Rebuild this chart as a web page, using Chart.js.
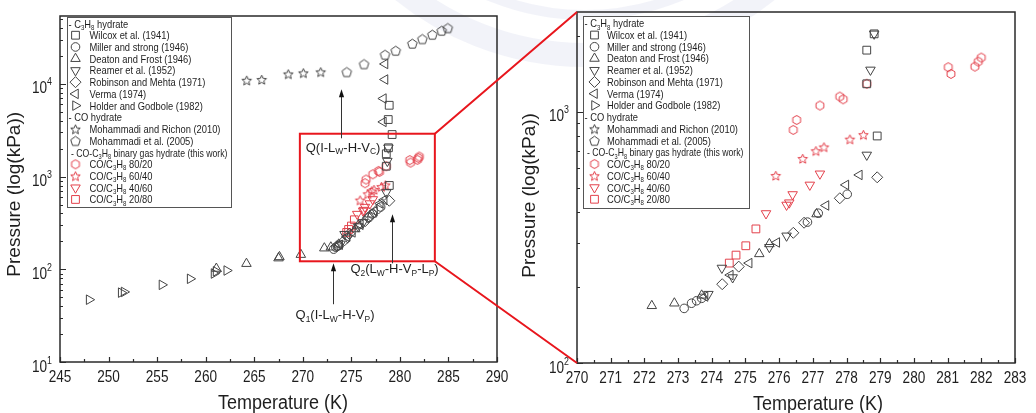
<!DOCTYPE html>
<html>
<head>
<meta charset="utf-8">
<script src="https://cdn.jsdelivr.net/npm/chart.js@4.4.1/dist/chart.umd.min.js"></script>
<style>
  html, body { margin: 0; padding: 0; background: #fff; }
  #wrap { position: relative; width: 1036px; height: 413px; overflow: hidden; }
  canvas { position: absolute; top: 0; }
  #bg, #fg { left: 0; }
  #fg { pointer-events: none; }
  #c1 { left: 0; }
  #c2 { left: 520px; }
</style>
</head>
<body>
<div id="wrap">
  <canvas id="bg" width="1036" height="413"></canvas>
  <canvas id="c1" width="520" height="413"></canvas>
  <canvas id="c2" width="516" height="413"></canvas>
  <canvas id="fg" width="1036" height="413"></canvas>
</div>
<script>
// ---- data: temperature (K) / pressure (kPa) ----
// C3H8 hydrate, literature
var wilcoxT   = [278.6, 278.6, 278.82, 278.91, 279.2, 278.8, 278.9];
var wilcoxP   = [1294, 1762, 2046, 802, 2842, 4125, 5880];
var millerT   = [273.18, 273.4, 273.55, 273.7, 276.84, 277.16, 278.02];
var millerP   = [165, 173, 177, 181, 364, 395, 470];
var deatonT   = [261.1, 264.2, 267.5, 267.6, 269.8, 272.22, 272.89, 273.7, 275.41, 275.71, 277.11];
var deatonP   = [102, 115, 132, 136, 144, 169, 173, 186, 272, 298, 392];
var reamerT   = [273.9, 274.3, 274.62, 275.71, 276.22, 278.6, 278.71, 278.82];
var reamerP   = [188, 239, 219, 289, 321, 674, 1470, 2046];
var robinsonT = [274.31, 274.8, 276.42, 276.74, 277.8, 278.91];
var robinsonP = [206, 242, 330, 362, 453, 549];
var vermaT    = [273.8, 274.55, 275.11, 275.93, 277.39, 277.98, 278.38, 278.3, 278.3, 278.47, 278.47];
var vermaP    = [184, 224, 250, 302, 424, 512, 561, 3890, 6950, 11150, 16400];
var holderT   = [248.0, 251.3, 251.6, 255.5, 258.4, 260.86, 261.07, 262.17];
var holderP   = [47, 56, 57, 68, 79, 90, 95, 97];
// CO hydrate
var richonT   = [264.23, 265.77, 268.51, 270.06, 271.85];
var richonP   = [10940, 11150, 12800, 13130, 13460];
var moh05T    = [274.53, 276.31, 278.47, 279.57, 281.28, 282.31, 283.34, 284.31, 284.93];
var moh05P    = [13460, 16400, 20740, 22900, 27280, 30550, 34100, 37650, 40180];
// CO-C3H8 binary hydrate (this work)
var mix8020T  = [276.42, 276.52, 277.21, 277.8, 277.9, 278.6, 281.02, 281.1, 281.81, 281.91, 282.0];
var mix8020P  = [848, 929, 1060, 1151, 1123, 1294, 1507, 1417, 1515, 1586, 1646];
var mix6040T  = [275.9, 276.7, 277.09, 277.33, 278.1, 278.5];
var mix6040P  = [558, 652, 700, 725, 779, 812];
var mix4060T  = [275.61, 276.22, 276.3, 276.4, 276.91, 277.21];
var mix4060P  = [394, 426, 435, 469, 512, 567];
var mix2080T  = [274.52, 274.72, 275.01, 275.31];
var mix2080P  = [250, 269, 293, 342];

var seriesLabels = ["Wilcox et al. (1941)", "Miller and strong (1946)", "Deaton and Frost (1946)",
  "Reamer et al. (1952)", "Robinson and Mehta (1971)", "Verma (1974)", "Holder and Godbole (1982)",
  "Mohammadi and Richon (2010)", "Mohammadi et al. (2005)",
  "CO/C3H8 80/20", "CO/C3H8 60/40", "CO/C3H8 40/60", "CO/C3H8 20/80"];
var seriesT = [wilcoxT, millerT, deatonT, reamerT, robinsonT, vermaT, holderT, richonT, moh05T, mix8020T, mix6040T, mix4060T, mix2080T];
var seriesP = [wilcoxP, millerP, deatonP, reamerP, robinsonP, vermaP, holderP, richonP, moh05P, mix8020P, mix6040P, mix4060P, mix2080P];

var SANS = '"Liberation Sans", Arial, sans-serif';
var SQ = 0.85;          // the figure's text is a bit condensed
var GREY = '#444';
var RED = '#e3404b';
var INK = '#1e1e1e';
var BOXRED = '#e8161d';

// outline marker drawn to a small canvas (pentagon, hexagon, 5-point star)
function shapeCanvas(kind, color, size) {
  var c = document.createElement('canvas');
  c.width = c.height = size + 2;
  var g = c.getContext('2d');
  var cx = (size + 2) / 2, cy = cx, r = size / 2 - 0.5;
  var pts = [];
  if (kind == 'pentagon') {
    for (var i = 0; i < 5; i++) pts.push([-Math.PI / 2 + i * 2 * Math.PI / 5, r]);
  } else if (kind == 'hexagon') {
    for (var i = 0; i < 6; i++) pts.push([-Math.PI / 2 + i * Math.PI / 3, r]);
  } else {
    for (var i = 0; i < 10; i++) pts.push([-Math.PI / 2 + i * Math.PI / 5, i % 2 ? r * 0.45 : r]);
  }
  g.strokeStyle = color;
  g.lineWidth = 1;
  g.beginPath();
  pts.forEach(function (p, i) {
    var x = cx + Math.cos(p[0]) * p[1], y = cy + Math.sin(p[0]) * p[1] + (kind == 'hexagon' ? 0 : 0.6);
    if (i == 0) g.moveTo(x, y); else g.lineTo(x, y);
  });
  g.closePath();
  g.stroke();
  return c;
}

var markers = [
  { ps: 'rect', r: 5.5, c: GREY },
  { ps: 'circle', r: 4.3, c: GREY },
  { ps: 'triangle', r: 5.5, c: GREY },
  { ps: 'triangle', r: 5.5, rot: 180, c: GREY },
  { ps: 'rectRot', r: 5.5, c: GREY },
  { ps: 'triangle', r: 5.5, rot: -90, c: GREY },
  { ps: 'triangle', r: 5.5, rot: 90, c: GREY },
  { ps: shapeCanvas('star', GREY, 11), r: 5, c: GREY },
  { ps: shapeCanvas('pentagon', GREY, 11), r: 5, c: GREY },
  { ps: shapeCanvas('hexagon', RED, 10), r: 5, c: RED },
  { ps: shapeCanvas('star', RED, 11), r: 5, c: RED },
  { ps: 'triangle', r: 5.5, rot: 180, c: RED },
  { ps: 'rect', r: 5.5, c: RED }
];

function buildDatasets() {
  return seriesLabels.map(function (lab, i) {
    var m = markers[i];
    return {
      label: lab,
      data: seriesT[i].map(function (t, j) { return { x: t, y: seriesP[i][j] }; }),
      pointStyle: m.ps,
      pointRadius: m.r,
      pointRotation: m.rot || 0,
      pointBorderColor: m.c,
      pointBackgroundColor: 'rgba(0,0,0,0)',
      pointBorderWidth: 1,
      borderColor: m.c
    };
  });
}

// text with sub/superscript pieces: [text, 0 normal | 1 sub | 2 sup]
// sx squeezes the text horizontally
function richText(ctx, parts, x, y, size, align, sx) {
  sx = sx || 1;
  var small = size * 0.65;
  var widths = parts.map(function (p) {
    ctx.font = (p[1] ? small : size) + 'px ' + SANS;
    return ctx.measureText(p[0]).width * sx;
  });
  var total = widths.reduce(function (a, b) { return a + b; }, 0);
  var cx = align == 'center' ? x - total / 2 : align == 'right' ? x - total : x;
  ctx.textAlign = 'left';
  ctx.textBaseline = 'alphabetic';
  parts.forEach(function (p, i) {
    ctx.font = (p[1] ? small : size) + 'px ' + SANS;
    var dy = p[1] == 1 ? size * 0.2 : p[1] == 2 ? -size * 0.5 : 0;
    ctx.save();
    ctx.translate(cx, y + dy);
    ctx.scale(sx, 1);
    ctx.fillText(p[0], 0, 0);
    ctx.restore();
    cx += widths[i];
  });
}

var C3H8 = [['C', 0], ['3', 1], ['H', 0], ['8', 1]];
var legendRows = [
  { head: [['- ', 0]].concat(C3H8, [[' hydrate', 0]]), dx: 1.5 },
  { set: 0 }, { set: 1 }, { set: 2 }, { set: 3 }, { set: 4 }, { set: 5 }, { set: 6 },
  { head: [['- CO hydrate', 0]], dx: 1.5 },
  { set: 7 }, { set: 8 },
  { head: [['- CO-', 0]].concat(C3H8, [[' binary gas hydrate (this work)', 0]]), dx: 4, sx: 0.79 },
  { set: 9, parts: [['CO/', 0]].concat(C3H8, [[' 80/20', 0]]) },
  { set: 10, parts: [['CO/', 0]].concat(C3H8, [[' 60/40', 0]]) },
  { set: 11, parts: [['CO/', 0]].concat(C3H8, [[' 40/60', 0]]) },
  { set: 12, parts: [['CO/', 0]].concat(C3H8, [[' 20/80', 0]]) }
];

var decor = {
  id: 'decor',
  afterDraw: function (chart, args, o) {
    var ctx = chart.ctx, a = chart.chartArea, xs = chart.scales.x, ys = chart.scales.y;
    ctx.save();

    // zoom rectangle (left panel only)
    if (o.zoomBox) {
      var b = o.zoomBox;
      ctx.strokeStyle = BOXRED;
      ctx.lineWidth = 2;
      var x0 = xs.getPixelForValue(b.T0), x1 = xs.getPixelForValue(b.T1);
      var y0 = ys.getPixelForValue(b.P1), y1 = ys.getPixelForValue(b.P0);
      ctx.strokeRect(x0, y0, x1 - x0, y1 - y0);
    }

    // frame
    ctx.strokeStyle = '#2a2a2a';
    ctx.lineWidth = 1.5;
    ctx.strokeRect(a.left, a.top, a.right - a.left, a.bottom - a.top);

    // inward ticks
    ctx.lineWidth = 1.2;
    ctx.beginPath();
    for (var v = xs.min; v <= xs.max + 1e-9; v += o.xMinor) {
      var px = Math.round(xs.getPixelForValue(v)) + 0.5;
      var major = Math.abs(v / o.xMajor - Math.round(v / o.xMajor)) < 1e-6;
      ctx.moveTo(px, a.bottom);
      ctx.lineTo(px, a.bottom - (major ? 5 : 3));
    }
    var e0 = Math.floor(Math.log10(ys.min)), e1 = Math.ceil(Math.log10(ys.max));
    for (var e = e0; e <= e1; e++) {
      for (var m = 1; m <= 9; m++) {
        var val = m * Math.pow(10, e);
        if (val < ys.min * 0.999 || val > ys.max * 1.001) continue;
        var py = Math.round(ys.getPixelForValue(val)) + 0.5;
        ctx.moveTo(a.left, py);
        ctx.lineTo(a.left + (m == 1 ? 6 : 3), py);
      }
    }
    ctx.stroke();

    // tick labels
    ctx.fillStyle = INK;
    for (var v = xs.min; v <= xs.max + 1e-9; v += o.xMajor) {
      richText(ctx, [[String(Math.round(v)), 0]], xs.getPixelForValue(v), a.bottom + 20, 16, 'center', SQ);
    }
    for (var e = e0; e <= e1; e++) {
      var val = Math.pow(10, e);
      if (val < ys.min * 0.999 || val > ys.max * 1.001) continue;
      richText(ctx, [['10', 0], [String(e), 2]], a.left - 8, ys.getPixelForValue(val) + 9.5, 16, 'right', SQ);
    }
    // x axis title
    richText(ctx, [['Temperature (K)', 0]], (a.left + a.right) / 2 + o.titleDx, a.bottom + 47, 20, 'center', 0.9);

    // legend box
    var L = o.legend;
    var bx = a.left + L.dx, by = a.top + L.dy;
    ctx.fillStyle = '#fff';
    ctx.fillRect(bx, by, L.w, L.h);
    ctx.strokeStyle = '#555';
    ctx.lineWidth = 1;
    ctx.strokeRect(bx + 0.5, by + 0.5, L.w, L.h);
    var dsets = chart.data.datasets;
    legendRows.forEach(function (row, i) {
      var cy = by + L.first + i * L.rowH;
      ctx.fillStyle = INK;
      if (row.head) {
        richText(ctx, row.head, bx + row.dx, cy + 4, 11, 'left', row.sx || SQ);
        return;
      }
      var d = dsets[row.set];
      richText(ctx, row.parts || [[d.label, 0]], bx + L.textX, cy + 4, 11, 'left', SQ);
      ctx.strokeStyle = d.pointBorderColor;
      ctx.fillStyle = 'rgba(0,0,0,0)';
      ctx.lineWidth = 1;
      Chart.helpers.drawPoint(ctx, { pointStyle: d.pointStyle, rotation: d.pointRotation, radius: d.pointRadius, borderWidth: 1 }, bx + L.symX, cy);
    });

    // phase-point notes with arrows
    (o.arrows || []).forEach(function (ar) {
      var x = Math.round(xs.getPixelForValue(ar.T)) + 0.5;
      var yb = ys.getPixelForValue(ar.from), yt = ys.getPixelForValue(ar.to);
      ctx.strokeStyle = '#333';
      ctx.fillStyle = '#111';
      ctx.lineWidth = 1;
      ctx.beginPath();
      ctx.moveTo(x, yb);
      ctx.lineTo(x, yt + 6);
      ctx.stroke();
      ctx.beginPath();
      ctx.moveTo(x, yt);
      ctx.lineTo(x - 2.6, yt + 8);
      ctx.lineTo(x + 2.6, yt + 8);
      ctx.closePath();
      ctx.fill();
    });
    (o.notes || []).forEach(function (n) {
      ctx.fillStyle = INK;
      richText(ctx, n.parts, xs.getPixelForValue(n.T), ys.getPixelForValue(n.P) + 4.7, 13, 'center');
    });

    ctx.restore();
  }
};

function makeChart(id, cfg) {
  return new Chart(document.getElementById(id), {
    type: 'scatter',
    data: { datasets: buildDatasets() },
    plugins: [decor],
    options: {
      responsive: false,
      animation: false,
      events: [],
      layout: { padding: { top: cfg.top, right: cfg.right, left: 0, bottom: 0 } },
      plugins: {
        legend: { display: false },
        tooltip: { enabled: false },
        decor: cfg.decor
      },
      scales: {
        x: {
          type: 'linear',
          min: cfg.xMin,
          max: cfg.xMax,
          afterFit: function (s) { s.height = cfg.xH; },
          grid: { display: false, drawTicks: false },
          border: { display: false },
          ticks: { display: false, stepSize: cfg.xStep }
        },
        y: {
          type: 'logarithmic',
          min: cfg.yMin,
          max: cfg.yMax,
          afterFit: function (s) { s.width = cfg.yW; },
          grid: { display: false, drawTicks: false },
          border: { display: false },
          ticks: { display: false },
          title: { display: true, text: cfg.yTitle, color: INK, padding: { top: cfg.yTitlePad, bottom: 0 }, font: { family: SANS, size: 19, lineHeight: 1.0 } }
        }
      }
    }
  });
}

var zoomBox = { T0: 269.7, T1: 283.6, P0: 122, P1: 2900 };

var left = makeChart('c1', {
  top: 16, right: 23, xH: 51, yW: 60,
  xMin: 245, xMax: 290, xStep: 5, yMin: 10, yMax: 54000,
  yTitle: 'Pressure (log(kPa))  ', yTitlePad: 5,
  decor: {
    xMajor: 5, xMinor: 2.5, titleDx: 4.5,
    legend: { dx: 7, dy: 1, w: 164, h: 190, first: 6.5, rowH: 11.73, symX: 8.5, textX: 22.5 },
    zoomBox: zoomBox,
    arrows: [
      { T: 273.9, from: 2590, to: 8760 },
      { T: 279.16, from: 116, to: 392 },
      { T: 273.15, from: 42, to: 116 }
    ],
    notes: [
      { T: 274.15, P: 2077, parts: [['Q(I-L', 0], ['W', 1], ['-H-V', 0], ['C', 1], [')', 0]] },
      { T: 279.45, P: 102, parts: [['Q', 0], ['2', 1], ['(L', 0], ['W', 1], ['-H-V', 0], ['P', 1], ['-L', 0], ['P', 1], [')', 0]] },
      { T: 273.32, P: 32.6, parts: [['Q', 0], ['1', 1], ['(I-L', 0], ['W', 1], ['-H-V', 0], ['P', 1], [')', 0]] }
    ]
  }
});

var right = makeChart('c2', {
  top: 12, right: 21, xH: 50, yW: 57,
  xMin: 270, xMax: 283, xStep: 1, yMin: 100, yMax: 2500,
  yTitle: 'Pressure (log(kPa))   ', yTitlePad: 0,
  decor: {
    xMajor: 1, xMinor: 0.5, titleDx: 22,
    legend: { dx: 6, dy: 4, w: 166, h: 192, first: 7.3, rowH: 11.73, symX: 11.5, textX: 24 }
  }
});

// faint seal watermark behind the plots
var bg = document.getElementById('bg').getContext('2d');
bg.strokeStyle = 'rgba(175,182,218,0.16)';
bg.lineWidth = 24;
bg.beginPath();
bg.arc(585, -235, 290, 0, Math.PI);
bg.stroke();
bg.lineWidth = 10;
bg.beginPath();
bg.arc(585, -235, 250, 0, Math.PI);
bg.stroke();

// red connectors from the zoom box to the right panel
var fg = document.getElementById('fg').getContext('2d');
var ra = right.chartArea, off = 520;
var bxr = left.scales.x.getPixelForValue(zoomBox.T1);
fg.strokeStyle = BOXRED;
fg.lineWidth = 2;
fg.beginPath();
fg.moveTo(bxr, left.scales.y.getPixelForValue(zoomBox.P1));
fg.lineTo(off + ra.left, ra.top);
fg.moveTo(bxr, left.scales.y.getPixelForValue(zoomBox.P0));
fg.lineTo(off + ra.left, ra.bottom);
fg.stroke();
</script>
</body>
</html>
